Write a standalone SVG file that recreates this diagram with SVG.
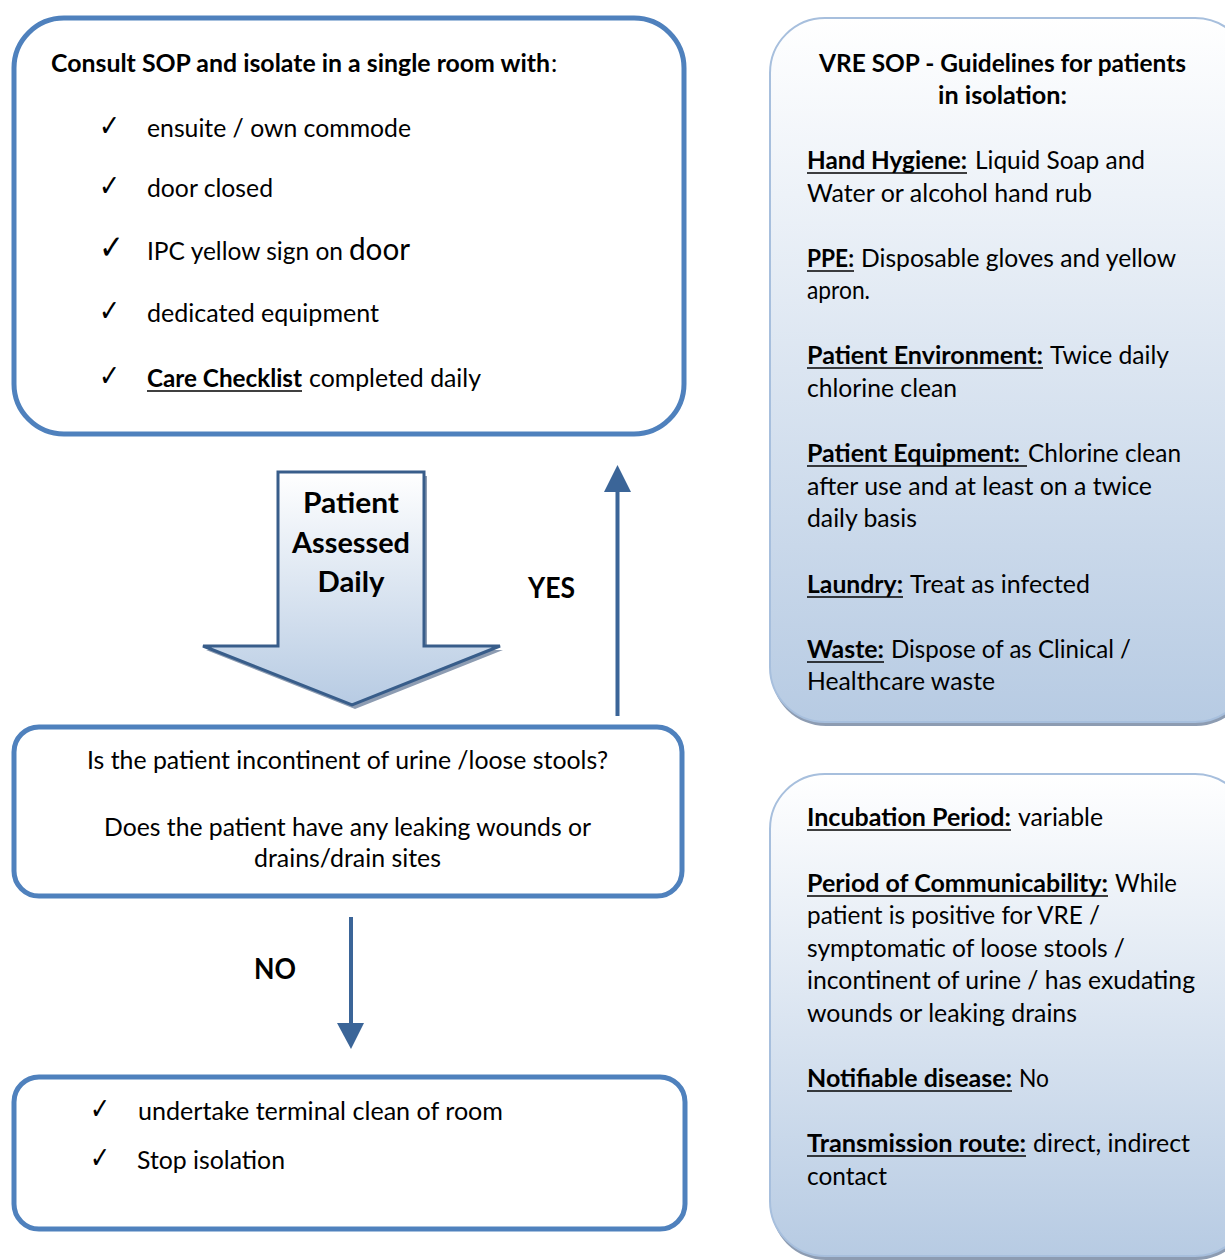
<svg xmlns="http://www.w3.org/2000/svg" width="1225" height="1260" viewBox="0 0 1225 1260">
<defs>
<linearGradient id="panelGrad" x1="0" y1="0" x2="0" y2="1">
<stop offset="0" stop-color="#FFFFFF"/>
<stop offset="1" stop-color="#B7CBE3"/>
</linearGradient>
<linearGradient id="arrowGrad" x1="0" y1="0" x2="0" y2="1">
<stop offset="0" stop-color="#FFFFFF"/>
<stop offset="1" stop-color="#B7CBE3"/>
</linearGradient>
<style>
.box{fill:#FFFFFF;stroke:#4F81BD;stroke-width:5}
.panel{fill:url(#panelGrad);stroke:#A7BFDD;stroke-width:2}
.shadow{fill:#8D9CB2}
.t{font-family:Lato,"Open Sans","Liberation Sans",sans-serif;font-size:25px;fill:#000}
.b{font-weight:bold}
.ck{font-family:"DejaVu Sans",sans-serif;font-size:30px;fill:#000}
.ul{stroke:#000;stroke-width:1.6}
.conn{stroke:#3B6598;stroke-width:4;fill:none}
.head{fill:#3B6598}
</style>
</defs>

<g id="isolate-box">
<rect class="box" x="14" y="18" width="670" height="416" rx="50"/>
<text class="t b" x="51" y="72" textLength="499" lengthAdjust="spacingAndGlyphs">Consult SOP and isolate in a single room with</text>
<text class="t" x="551" y="72">:</text>
<text class="ck" x="99" y="136" textLength="21" lengthAdjust="spacingAndGlyphs">✓</text>
<text class="t" x="147" y="137" textLength="264" lengthAdjust="spacingAndGlyphs">ensuite / own commode</text>
<text class="ck" x="99" y="196" textLength="21" lengthAdjust="spacingAndGlyphs">✓</text>
<text class="t" x="147" y="197" textLength="126" lengthAdjust="spacingAndGlyphs">door closed</text>
<text class="ck" x="99" y="259" style="font-size:34px" textLength="25" lengthAdjust="spacingAndGlyphs">✓</text>
<text class="t" x="147" y="260" textLength="196" lengthAdjust="spacingAndGlyphs">IPC yellow sign on</text>
<text class="t" x="349" y="260" style="font-size:30px" textLength="61" lengthAdjust="spacingAndGlyphs">door</text>
<text class="ck" x="99" y="321" textLength="21" lengthAdjust="spacingAndGlyphs">✓</text>
<text class="t" x="147" y="322" textLength="232" lengthAdjust="spacingAndGlyphs">dedicated equipment</text>
<text class="ck" x="99" y="386" textLength="21" lengthAdjust="spacingAndGlyphs">✓</text>
<text class="t b" x="147" y="387" textLength="155" lengthAdjust="spacingAndGlyphs">Care Checklist</text>
<line class="ul" x1="147" y1="391" x2="302" y2="391"/>
<text class="t" x="309" y="387" textLength="172" lengthAdjust="spacingAndGlyphs">completed daily</text>
</g>

<g id="assessed-arrow">
<path class="shadow" d="M281,476 H427 V650 H503 L355,709 L206,650 H281 Z"/>
<path d="M278,472 H424 V646 H500 L352,705 L203,646 H278 Z" fill="url(#arrowGrad)" stroke="#385D8A" stroke-width="3" stroke-linejoin="miter"/>
<text class="t b" x="351" y="513" text-anchor="middle" style="font-size:29px" textLength="96" lengthAdjust="spacingAndGlyphs">Patient</text>
<text class="t b" x="351" y="553" text-anchor="middle" style="font-size:29px" textLength="118" lengthAdjust="spacingAndGlyphs">Assessed</text>
<text class="t b" x="351" y="592" text-anchor="middle" style="font-size:29px" textLength="67" lengthAdjust="spacingAndGlyphs">Daily</text>
</g>

<g id="question-box">
<rect class="box" x="14" y="727" width="668" height="169" rx="25"/>
<text class="t" x="347.5" y="769" text-anchor="middle" textLength="521" lengthAdjust="spacingAndGlyphs">Is the patient incontinent of urine /loose stools?</text>
<text class="t" x="347.5" y="836" text-anchor="middle" textLength="487" lengthAdjust="spacingAndGlyphs">Does the patient have any leaking wounds or</text>
<text class="t" x="347.5" y="867" text-anchor="middle" textLength="187" lengthAdjust="spacingAndGlyphs">drains/drain sites</text>
</g>

<g id="stop-box">
<rect class="box" x="14" y="1077" width="671" height="152" rx="25"/>
<text class="ck" x="90" y="1119" textLength="20" lengthAdjust="spacingAndGlyphs">✓</text>
<text class="t" x="138" y="1120" textLength="365" lengthAdjust="spacingAndGlyphs">undertake terminal clean of room</text>
<text class="ck" x="90" y="1168" textLength="20" lengthAdjust="spacingAndGlyphs">✓</text>
<text class="t" x="137" y="1169" textLength="148" lengthAdjust="spacingAndGlyphs">Stop isolation</text>
</g>

<g id="connectors">
<line class="conn" x1="617.5" y1="716" x2="617.5" y2="489"/>
<polygon class="head" points="604,492 631,492 617.5,465"/>
<text class="t b" x="528" y="598" style="font-size:29px" textLength="47" lengthAdjust="spacingAndGlyphs">YES</text>
<line class="conn" x1="351" y1="917" x2="351" y2="1026"/>
<polygon class="head" points="337,1023 364,1023 351,1049"/>
<text class="t b" x="254" y="979" style="font-size:29px" textLength="42" lengthAdjust="spacingAndGlyphs">NO</text>
</g>

<g id="guidelines-panel">
<rect class="shadow" x="771" y="22" width="480" height="704" rx="55"/>
<rect class="panel" x="770" y="18" width="480" height="704" rx="55"/>
<text class="t b" x="1002.5" y="72" text-anchor="middle" textLength="367" lengthAdjust="spacingAndGlyphs">VRE SOP - Guidelines for patients</text>
<text class="t b" x="1002.5" y="104" text-anchor="middle" textLength="129" lengthAdjust="spacingAndGlyphs">in isolation:</text>
<text class="t b" x="807" y="169" textLength="160" lengthAdjust="spacingAndGlyphs">Hand Hygiene:</text>
<line class="ul" x1="807" y1="173" x2="967" y2="173"/>
<text class="t" x="975" y="169" textLength="170" lengthAdjust="spacingAndGlyphs">Liquid Soap and</text>
<text class="t" x="807" y="202" textLength="285" lengthAdjust="spacingAndGlyphs">Water or alcohol hand rub</text>
<text class="t b" x="807" y="267" textLength="47" lengthAdjust="spacingAndGlyphs">PPE:</text>
<line class="ul" x1="807" y1="271" x2="854" y2="271"/>
<text class="t" x="861" y="267" textLength="315" lengthAdjust="spacingAndGlyphs">Disposable gloves and yellow</text>
<text class="t" x="807" y="299" textLength="63" lengthAdjust="spacingAndGlyphs">apron.</text>
<text class="t b" x="807" y="364" textLength="236" lengthAdjust="spacingAndGlyphs">Patient Environment:</text>
<line class="ul" x1="807" y1="368" x2="1043" y2="368"/>
<text class="t" x="1050" y="364" textLength="119" lengthAdjust="spacingAndGlyphs">Twice daily</text>
<text class="t" x="807" y="397" textLength="150" lengthAdjust="spacingAndGlyphs">chlorine clean</text>
<text class="t b" x="807" y="462" textLength="213" lengthAdjust="spacingAndGlyphs">Patient Equipment:</text>
<line class="ul" x1="807" y1="466" x2="1027" y2="466"/>
<text class="t" x="1028" y="462" textLength="153" lengthAdjust="spacingAndGlyphs">Chlorine clean</text>
<text class="t" x="807" y="495" textLength="345" lengthAdjust="spacingAndGlyphs">after use and at least on a twice</text>
<text class="t" x="807" y="527" textLength="110" lengthAdjust="spacingAndGlyphs">daily basis</text>
<text class="t b" x="807" y="593" textLength="96" lengthAdjust="spacingAndGlyphs">Laundry:</text>
<line class="ul" x1="807" y1="597" x2="903" y2="597"/>
<text class="t" x="910" y="593" textLength="180" lengthAdjust="spacingAndGlyphs">Treat as infected</text>
<text class="t b" x="807" y="658" textLength="77" lengthAdjust="spacingAndGlyphs">Waste:</text>
<line class="ul" x1="807" y1="662" x2="884" y2="662"/>
<text class="t" x="891" y="658" textLength="240" lengthAdjust="spacingAndGlyphs">Dispose of as Clinical /</text>
<text class="t" x="807" y="690" textLength="188" lengthAdjust="spacingAndGlyphs">Healthcare waste</text>
</g>

<g id="facts-panel">
<rect class="shadow" x="771" y="778" width="480" height="482" rx="55"/>
<rect class="panel" x="770" y="774" width="480" height="482" rx="55"/>
<text class="t b" x="807" y="826" textLength="204" lengthAdjust="spacingAndGlyphs">Incubation Period:</text>
<line class="ul" x1="807" y1="830" x2="1011" y2="830"/>
<text class="t" x="1018" y="826" textLength="85" lengthAdjust="spacingAndGlyphs">variable</text>
<text class="t b" x="807" y="892" textLength="301" lengthAdjust="spacingAndGlyphs">Period of Communicability:</text>
<line class="ul" x1="807" y1="896" x2="1108" y2="896"/>
<text class="t" x="1115" y="892" textLength="62" lengthAdjust="spacingAndGlyphs">While</text>
<text class="t" x="807" y="924" textLength="293" lengthAdjust="spacingAndGlyphs">patient is positive for VRE /</text>
<text class="t" x="807" y="957" textLength="318" lengthAdjust="spacingAndGlyphs">symptomatic of loose stools /</text>
<text class="t" x="807" y="989" textLength="388" lengthAdjust="spacingAndGlyphs">incontinent of urine / has exudating</text>
<text class="t" x="807" y="1022" textLength="270" lengthAdjust="spacingAndGlyphs">wounds or leaking drains</text>
<text class="t b" x="807" y="1087" textLength="205" lengthAdjust="spacingAndGlyphs">Notifiable disease:</text>
<line class="ul" x1="807" y1="1091" x2="1012" y2="1091"/>
<text class="t" x="1019" y="1087" textLength="30" lengthAdjust="spacingAndGlyphs">No</text>
<text class="t b" x="807" y="1152" textLength="219" lengthAdjust="spacingAndGlyphs">Transmission route:</text>
<line class="ul" x1="807" y1="1156" x2="1026" y2="1156"/>
<text class="t" x="1033" y="1152" textLength="157" lengthAdjust="spacingAndGlyphs">direct, indirect</text>
<text class="t" x="807" y="1185" textLength="80" lengthAdjust="spacingAndGlyphs">contact</text>
</g>
</svg>
